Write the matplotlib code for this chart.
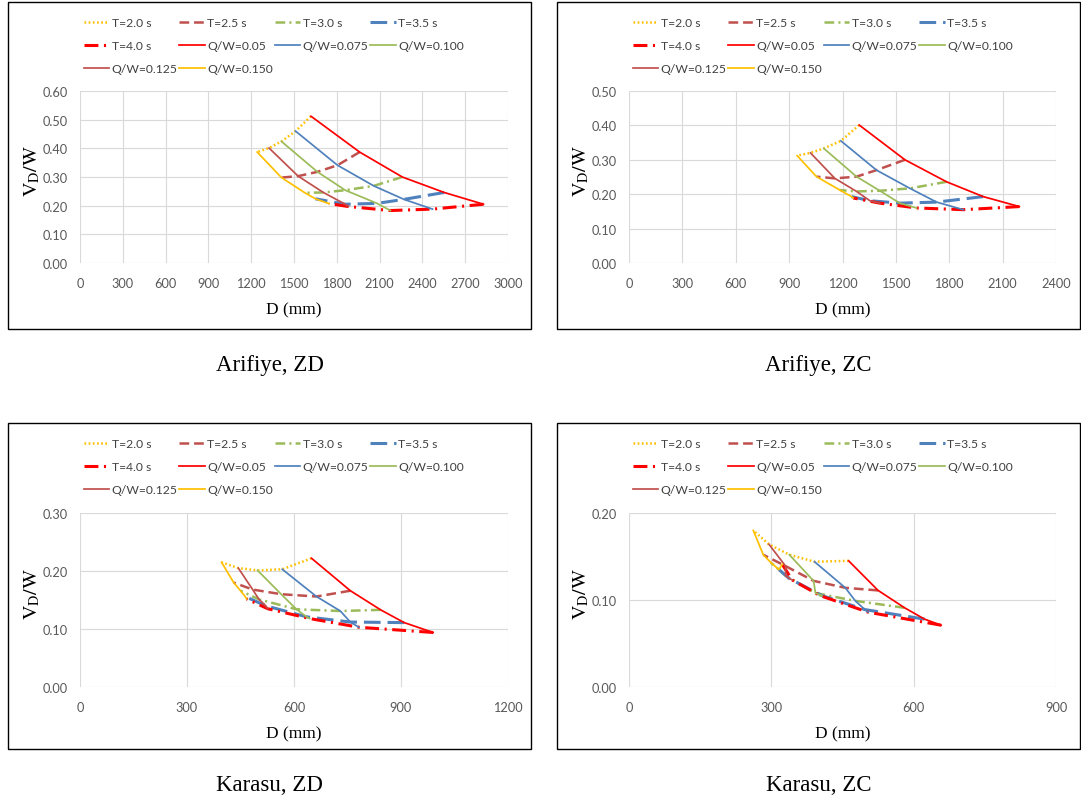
import numpy as np
import matplotlib
matplotlib.use("Agg")
import matplotlib.pyplot as plt
from matplotlib.patches import Rectangle

plt.rcParams['font.family'] = ['Lato', 'DejaVu Sans']
plt.rcParams['mathtext.fontset'] = 'stix'
plt.rcParams['lines.scale_dashes'] = False

periods = ['T=2.0 s', 'T=2.5 s', 'T=3.0 s', 'T=3.5 s', 'T=4.0 s']
ratios = ['Q/W=0.05', 'Q/W=0.075', 'Q/W=0.100', 'Q/W=0.125', 'Q/W=0.150']

# rows: period T=2.0 ... 4.0, columns: Q/W=0.05 ... 0.150
arifiye_zd_D = [[1619, 1511, 1412, 1325, 1242],
                [1960, 1805, 1664, 1529, 1412],
                [2259, 2059, 1859, 1706, 1576],
                [2553, 2271, 2082, 1859, 1650],
                [2828, 2471, 2176, 1882, 1745]]
arifiye_zd_V = [[0.512, 0.460, 0.424, 0.401, 0.387],
                [0.387, 0.341, 0.318, 0.303, 0.298],
                [0.300, 0.269, 0.254, 0.246, 0.245],
                [0.246, 0.222, 0.208, 0.205, 0.224],
                [0.205, 0.188, 0.183, 0.197, 0.207]]

arifiye_zc_D = [[1294, 1191, 1095, 1020, 945],
                [1551, 1391, 1279, 1157, 1054],
                [1785, 1579, 1410, 1279, 1185],
                [1991, 1729, 1522, 1354, 1251],
                [2194, 1879, 1616, 1410, 1260]]
arifiye_zc_V = [[0.401, 0.355, 0.333, 0.320, 0.312],
                [0.300, 0.270, 0.251, 0.246, 0.251],
                [0.236, 0.217, 0.210, 0.208, 0.212],
                [0.193, 0.177, 0.174, 0.181, 0.193],
                [0.164, 0.155, 0.160, 0.174, 0.189]]

karasu_zd_D = [[649, 567, 498, 444, 397],
               [758, 663, 564, 484, 431],
               [843, 730, 607, 502, 450],
               [909, 758, 635, 521, 463],
               [990, 782, 644, 526, 467]]
karasu_zd_V = [[0.222, 0.203, 0.201, 0.205, 0.215],
               [0.166, 0.156, 0.160, 0.168, 0.180],
               [0.133, 0.131, 0.134, 0.151, 0.166],
               [0.111, 0.112, 0.121, 0.140, 0.156],
               [0.094, 0.103, 0.118, 0.135, 0.152]]

karasu_zc_D = [[463, 391, 338, 295, 262],
               [525, 456, 389, 330, 283],
               [581, 477, 393, 330, 299],
               [623, 497, 407, 337, 316],
               [658, 504, 403, 344, 323]]
karasu_zc_V = [[0.145, 0.144, 0.152, 0.164, 0.180],
               [0.111, 0.114, 0.122, 0.139, 0.152],
               [0.091, 0.099, 0.108, 0.128, 0.143],
               [0.078, 0.089, 0.105, 0.125, 0.135],
               [0.071, 0.086, 0.105, 0.123, 0.141]]

t_styles = [dict(color='#FFC000', lw=1.8, ls=(0, (1.2, 1.8))),
            dict(color='#C0504D', lw=1.8, ls=(0, (7, 3.5))),
            dict(color='#9BBB59', lw=1.8, ls=(0, (7, 3, 1.5, 3))),
            dict(color='#4F81BD', lw=2.2, ls=(0, (12, 5))),
            dict(color='#FF0000', lw=2.2, ls=(0, (10, 4, 1.5, 4)))]
q_colors = ['#FF0000', '#4F81BD', '#9BBB59', '#C0504D', '#FFC000']

W, H = 1081, 803


def fig_rect(x0, y0, x1, y1):
    # pixel box (top-left origin) -> figure fraction
    return [x0 / W, 1 - y1 / H, (x1 - x0) / W, (y1 - y0) / H]


def draw_panel(fig, box, D, V, xmax, ymax, title, frame, legend_xy):
    D = np.array(D)
    V = np.array(V)
    ax = fig.add_axes(fig_rect(*box))
    handles = []
    for i in range(5):
        h, = ax.plot(D[i], V[i], solid_capstyle='butt', **t_styles[i])
        handles.append(h)
    for j in range(5):
        h, = ax.plot(D[:, j], V[:, j], color=q_colors[j], lw=1.25)
        handles.append(h)

    ax.set_xlim(0, xmax)
    ax.set_ylim(0, ymax)
    ax.set_xticks(np.arange(0, xmax + 1, 300))
    ax.set_yticks(np.arange(0, ymax + 1e-9, 0.1))
    ax.yaxis.set_major_formatter(plt.FormatStrFormatter('%.2f'))
    ax.grid(True, color='#D9D9D9', lw=0.8)
    ax.set_axisbelow(True)
    for s in ax.spines.values():
        s.set_visible(False)
    ax.tick_params(length=0, labelsize=9.2, colors='#595959')
    ax.tick_params(axis='x', pad=10)
    ax.tick_params(axis='y', pad=8.5)
    ax.set_xlabel('D (mm)', family='Liberation Serif', fontsize=12.5, labelpad=9)
    ax.set_ylabel(r'$\mathrm{V_D/W}$', fontsize=14.5)
    ax.yaxis.set_label_coords(-38 / (box[2] - box[0]), 0.54)

    # legend laid out row by row (matplotlib fills columns first)
    order = [0, 4, 8, 1, 5, 9, 2, 6, 3, 7]
    labels = periods + ratios
    fig.legend([handles[k] for k in order], [labels[k] for k in order],
               ncol=4, loc='upper left', frameon=False, fontsize=8.7,
               bbox_to_anchor=(legend_xy[0] / W, 1 - legend_xy[1] / H),
               borderpad=0, borderaxespad=0, handlelength=2.1,
               handletextpad=0.2, columnspacing=0.15, labelspacing=1.0,
               labelcolor='#404040')

    fx0, fy0, fx1, fy1 = frame
    fig.patches.append(Rectangle((fx0 / W, 1 - fy1 / H), (fx1 - fx0) / W,
                                 (fy1 - fy0) / H, transform=fig.transFigure,
                                 fill=False, ec='black', lw=1.0))
    fig.text((fx0 + fx1) / 2 / W, 1 - (fy1 + 35.5) / H, title,
             family='Liberation Serif', fontsize=16.5, ha='center', va='center')


fig = plt.figure(figsize=(W / 100, H / 100), dpi=100)
draw_panel(fig, (80, 92, 508, 264), arifiye_zd_D, arifiye_zd_V, 3000, 0.6,
           'Arifiye, ZD', (8, 3, 531, 330), (84, 18))
draw_panel(fig, (629, 92, 1056, 264), arifiye_zc_D, arifiye_zc_V, 2400, 0.5,
           'Arifiye, ZC', (557, 3, 1080, 330), (633, 18))
draw_panel(fig, (80, 514, 508, 688), karasu_zd_D, karasu_zd_V, 1200, 0.3,
           'Karasu, ZD', (8, 424, 531, 750), (84, 439))
draw_panel(fig, (629, 514, 1056, 688), karasu_zc_D, karasu_zc_V, 900, 0.2,
           'Karasu, ZC', (557, 424, 1080, 750), (633, 439))

fig.savefig('out.png', dpi=100)
